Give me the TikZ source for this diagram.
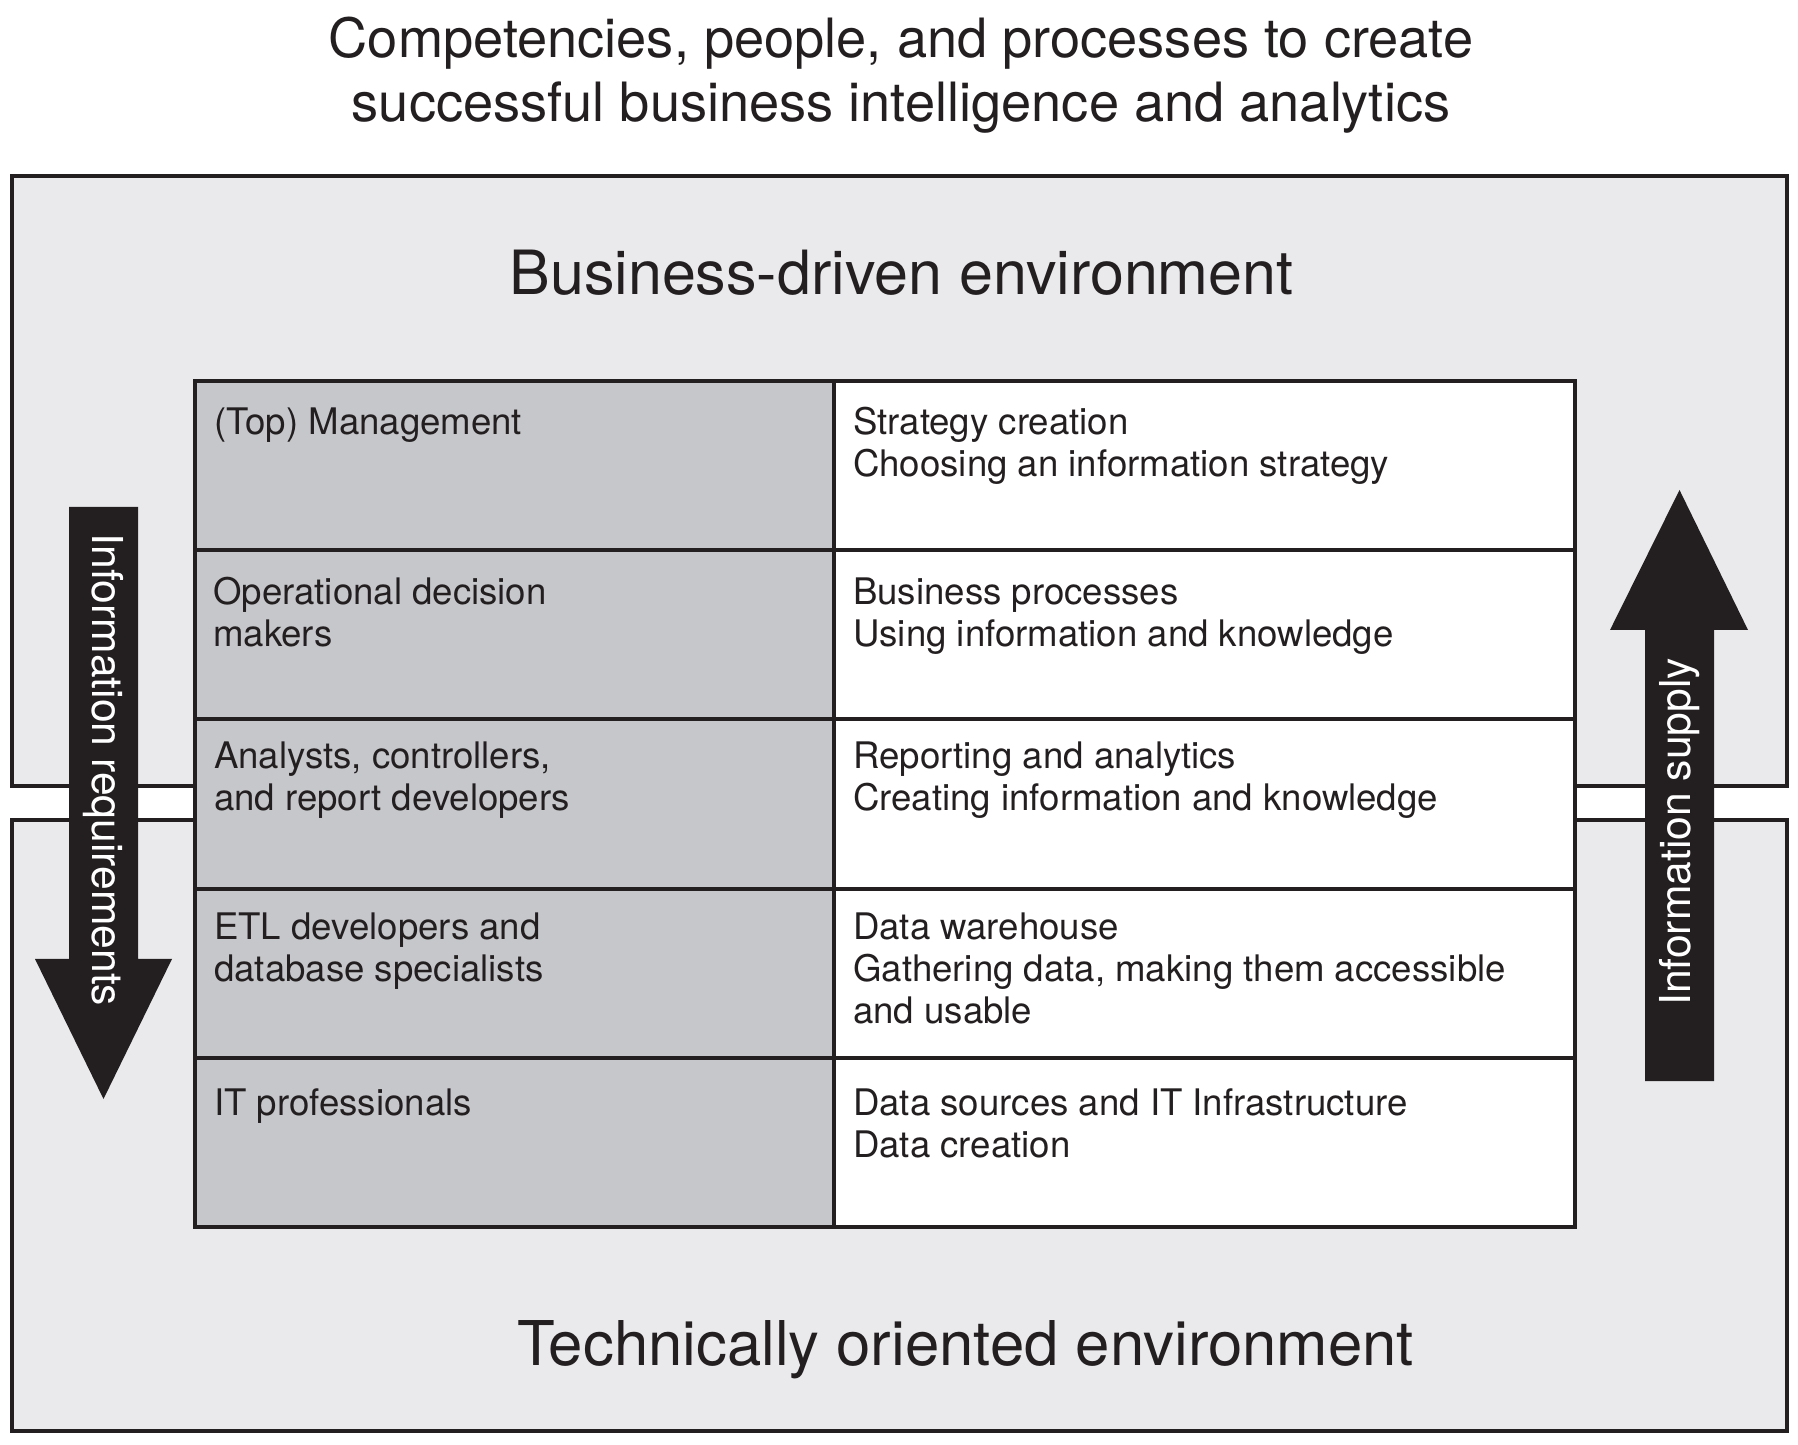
\documentclass[tikz,border=0pt]{standalone}
\usepackage{fontspec}
\setmainfont{TeX Gyre Heros}
\definecolor{ink}{HTML}{231F20}
\definecolor{envgray}{HTML}{EAEAEC}
\definecolor{rolegray}{HTML}{C6C7CB}

\begin{document}
\begin{tikzpicture}[x=1pt,y=1pt,
  envbox/.style={fill=envgray, draw=ink, line width=4pt},
  rolecell/.style={fill=rolegray, draw=ink, line width=4pt},
  taskcell/.style={fill=white, draw=ink, line width=4pt},
  % multi-line nodes: the base anchor sits on the last line
  celltext/.style={anchor=base west, inner sep=0pt, align=left, text=ink,
    font=\fontsize{36.6}{42}\selectfont},
  titletext/.style={anchor=base, inner sep=0pt, align=center, text=ink,
    font=\fontsize{54.2}{64}\selectfont},
  envtext/.style={anchor=base, inner sep=0pt, text=ink,
    font=\fontsize{61}{70}\selectfont},
  arrowtext/.style={inner sep=0pt, text=white,
    font=\fontsize{42.6}{50}\selectfont},
]
\useasboundingbox (0,0) rectangle (1798,1444);
\fill[white] (0,0) rectangle (1798,1444);

% the two environments
\draw[envbox] (12,658) rectangle (1787,1268);
\draw[envbox] (12,13) rectangle (1787,624);

% table: roles (left) and tasks (right)
\foreach \t/\b in {1063/894, 894/725, 725/555, 555/386, 386/217} {
  \draw[rolecell] (195,\b) rectangle (834,\t);
  \draw[taskcell] (834,\b) rectangle (1575,\t);
}

% information requirements flow downwards
\fill[ink] (69,937) -- (138,937) -- (138,485) -- (172,485) -- (103.5,345)
  -- (35,485) -- (69,485) -- cycle;
% information supply flows upwards
\fill[ink] (1645,363) -- (1714,363) -- (1714,814) -- (1748,814) -- (1679.5,954)
  -- (1610,814) -- (1645,814) -- cycle;

% headings
\node[titletext] (title) at (901,1322)
  {Competencies, people, and processes to create\\successful business intelligence and analytics};
\node[envtext] (bizenv) at (901.5,1149) {Business-driven environment};
\node[envtext, font=\fontsize{61.7}{70}\selectfont] (techenv) at (965.5,79)
  {Technically oriented environment};

% cell texts (positions give the baseline of each text's last line)
\node[celltext] (mgmt) at (214,1009) {(Top) Management};
\node[celltext] (strategy) at (853,967) {Strategy creation\\Choosing an information strategy};
\node[celltext] (opdm) at (213,797) {Operational decision\\makers};
\node[celltext] (bizproc) at (853,797) {Business processes\\Using information and knowledge};
\node[celltext] (analysts) at (214,633) {Analysts, controllers,\\and report developers};
\node[celltext] (reporting) at (853,633) {Reporting and analytics\\Creating information and knowledge};
\node[celltext] (etl) at (214,462.5) {ETL developers and\\database specialists};
\node[celltext] (dwh) at (853,420.5) {Data warehouse\\Gathering data, making them accessible\\and usable};
\node[celltext] (itpro) at (214,329) {IT professionals};
\node[celltext] (sources) at (853,287) {Data sources and IT Infrastructure\\Data creation};

% arrow labels
\node[arrowtext, rotate=-90] (req) at (103.5,674) {Information requirements};
\node[arrowtext, rotate=90] (supply) at (1679.5,612) {Information supply};
\end{tikzpicture}
\end{document}
